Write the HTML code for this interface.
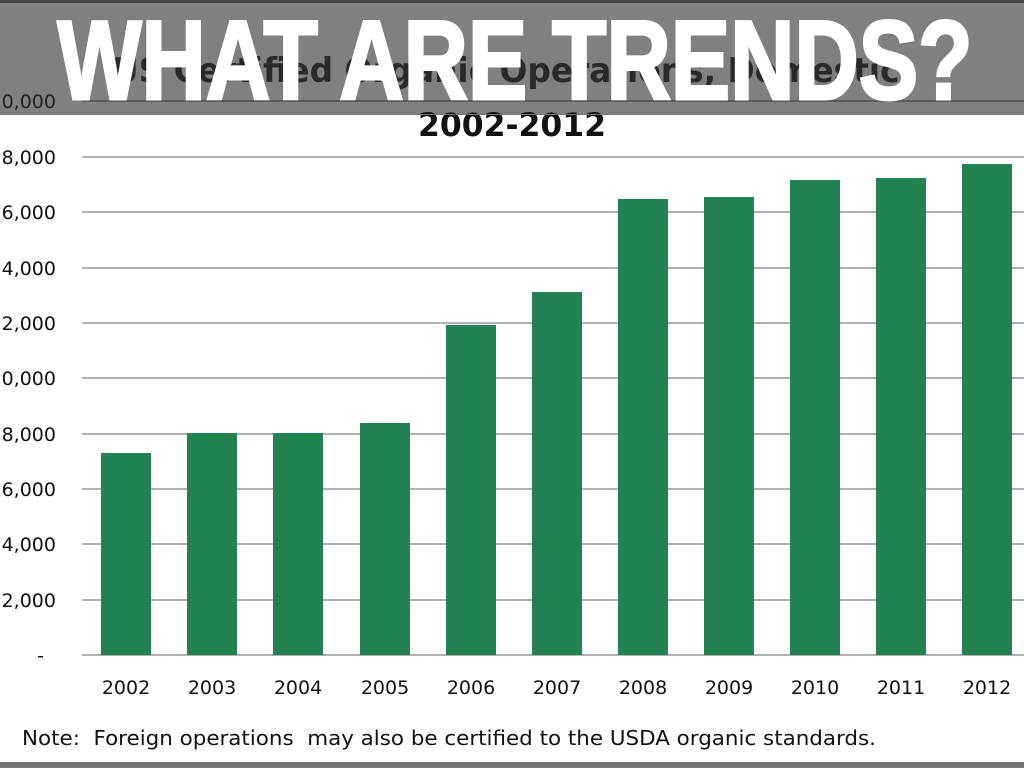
<!DOCTYPE html>
<html><head><meta charset="utf-8"><style>
body{margin:0;width:1024px;height:768px;background:#fff;position:relative;overflow:hidden;font-family:"Liberation Sans",sans-serif}
</style></head><body>
<svg width="1024" height="768" style="position:absolute;left:0;top:0" font-family="DejaVu Sans, Liberation Sans, sans-serif">
<rect x="0" y="0" width="1024" height="115" fill="#808080"/>
<text x="512" y="82" font-size="34" font-weight="bold" text-anchor="middle" fill="#2a2a2a" textLength="800" lengthAdjust="spacingAndGlyphs">US Certified Organic Operations, Domestic,</text>
<g stroke="#b0b0b0" stroke-width="2">
<line x1="82" x2="1024" y1="157" y2="157"/>
<line x1="82" x2="1024" y1="212" y2="212"/>
<line x1="82" x2="1024" y1="268" y2="268"/>
<line x1="82" x2="1024" y1="323" y2="323"/>
<line x1="82" x2="1024" y1="378" y2="378"/>
<line x1="82" x2="1024" y1="434" y2="434"/>
<line x1="82" x2="1024" y1="489" y2="489"/>
<line x1="82" x2="1024" y1="544" y2="544"/>
<line x1="82" x2="1024" y1="600" y2="600"/>
<line x1="82" x2="1024" y1="655" y2="655"/>
</g>
<line x1="82" x2="1024" y1="101" y2="101" stroke="#5a5a5a" stroke-width="2"/>
<g fill="#238251">
<rect x="101" y="453" width="50" height="202"/>
<rect x="187" y="433" width="50" height="222"/>
<rect x="273" y="433" width="50" height="222"/>
<rect x="360" y="423" width="50" height="232"/>
<rect x="446" y="325" width="50" height="330"/>
<rect x="532" y="292" width="50" height="363"/>
<rect x="618" y="199" width="50" height="456"/>
<rect x="704" y="197" width="50" height="458"/>
<rect x="790" y="180" width="50" height="475"/>
<rect x="876" y="178" width="50" height="477"/>
<rect x="962" y="164" width="50" height="491"/>
</g>
<g font-size="19" text-anchor="end" fill="#111">
<text x="56" y="108" fill="#222">0,000</text>
<text x="56" y="164">8,000</text>
<text x="56" y="219">6,000</text>
<text x="56" y="275">4,000</text>
<text x="56" y="330">2,000</text>
<text x="56" y="385">0,000</text>
<text x="56" y="441">8,000</text>
<text x="56" y="496">6,000</text>
<text x="56" y="551">4,000</text>
<text x="56" y="607">2,000</text>
<text x="44" y="662">-</text>
</g>
<g font-size="19" text-anchor="middle" fill="#111">
<text x="126" y="694">2002</text><text x="212" y="694">2003</text><text x="298" y="694">2004</text>
<text x="385" y="694">2005</text><text x="471" y="694">2006</text><text x="557" y="694">2007</text>
<text x="643" y="694">2008</text><text x="729" y="694">2009</text><text x="815" y="694">2010</text>
<text x="901" y="694">2011</text><text x="987" y="694">2012</text>
</g>
<text x="22" y="745" font-size="20" fill="#111" xml:space="preserve" textLength="854" lengthAdjust="spacingAndGlyphs">Note:  Foreign operations  may also be certified to the USDA organic standards.</text>
<text x="512" y="136" font-size="32" font-weight="bold" text-anchor="middle" fill="#111" textLength="188" lengthAdjust="spacingAndGlyphs">2002-2012</text>
<rect x="0" y="0" width="1024" height="3" fill="#444"/>
<rect x="0" y="114" width="1024" height="1" fill="#777"/>
<rect x="0" y="762" width="1024" height="6" fill="#777"/>
<text x="515" y="99" font-family="Liberation Sans, sans-serif" font-size="112" font-weight="bold" text-anchor="middle" fill="#fff" stroke="#fff" stroke-width="3" textLength="915" lengthAdjust="spacingAndGlyphs">WHAT ARE TRENDS?</text>
</svg>
</body></html>
